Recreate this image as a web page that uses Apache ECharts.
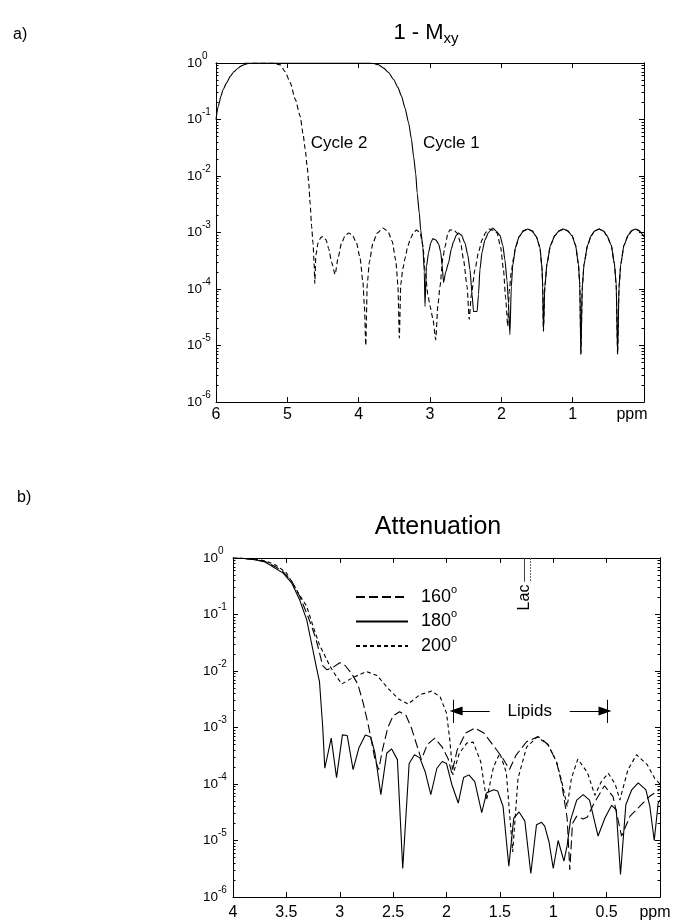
<!DOCTYPE html>
<html><head><meta charset="utf-8">
<script src="https://cdn.jsdelivr.net/npm/echarts@6/dist/echarts.min.js"></script>
<style>html,body{margin:0;padding:0;background:#fff}#c{width:676px;height:922px}</style>
</head><body><div id="c"></div>
<script>
const FONT = "'Liberation Sans', Arial, Helvetica, sans-serif";

// ---------- panel a) 1 - Mxy : [ppm, value] ----------
const cycle1 = [
[6.00,0.10],[5.97,0.17],[5.93,0.26],[5.90,0.34],[5.85,0.45],[5.80,0.58],[5.75,0.70],[5.70,0.79],[5.65,0.88],[5.60,0.94],[5.55,0.98],[5.50,1.00],[5.00,1.00],[4.50,1.00],[4.00,1.00],[3.85,1.00],[3.79,0.98],[3.72,0.93],[3.65,0.81],[3.58,0.68],[3.51,0.51],[3.45,0.37],[3.40,0.26],[3.35,0.16],[3.30,0.087],[3.26,0.045],[3.23,0.022],[3.20,0.011],[3.18,0.005],[3.15,0.0022],[3.13,0.0011],[3.10,5.5e-4],[3.08,2.0e-4],[3.07,4.9e-5],
[3.05,2.5e-4],[3.02,4.4e-4],[2.99,6.5e-4],[2.96,7.8e-4],[2.92,7.4e-4],[2.88,6.3e-4],[2.85,4.5e-4],[2.83,2.6e-4],[2.81,1.3e-4],[2.78,2.0e-4],[2.74,2.9e-4],[2.70,5.2e-4],[2.67,6.9e-4],[2.63,9.0e-4],[2.60,9.8e-4],[2.56,9.0e-4],[2.51,6.5e-4],[2.47,4.0e-4],[2.44,2.2e-4],[2.41,8.0e-5],[2.39,4.0e-5],[2.34,4.0e-5],[2.32,8.0e-5],[2.30,2.2e-4],[2.27,4.5e-4],[2.23,7.4e-4],[2.18,1.0e-3],[2.12,1.2e-3],[2.07,1.05e-3],[2.02,8.9e-4],[1.98,6.0e-4],[1.95,3.3e-4],[1.92,1.4e-4],[1.90,5.6e-5],[1.88,1.55e-5],
[1.86,1.1e-4],[1.84,2.6e-4],[1.80,5.5e-4],[1.75,8.5e-4],[1.69,1.07e-3],[1.63,1.15e-3],[1.57,1.07e-3],[1.51,8.5e-4],[1.46,5.5e-4],[1.43,2.4e-4],[1.42,1.1e-4],[1.41,1.8e-5],
[1.39,1.1e-4],[1.36,2.8e-4],[1.31,6.0e-4],[1.25,8.8e-4],[1.19,1.07e-3],[1.13,1.15e-3],[1.07,1.07e-3],[1.01,8.8e-4],[0.96,6.0e-4],[0.92,2.8e-4],[0.90,1.2e-4],[0.885,7.0e-6],
[0.865,1.1e-4],[0.84,2.8e-4],[0.79,6.0e-4],[0.74,8.8e-4],[0.69,1.07e-3],[0.63,1.15e-3],[0.57,1.07e-3],[0.52,8.8e-4],[0.46,6.0e-4],[0.415,2.8e-4],[0.39,1.2e-4],[0.37,7.0e-6],
[0.35,1.1e-4],[0.325,2.8e-4],[0.28,6.0e-4],[0.22,9.0e-4],[0.17,1.08e-3],[0.12,1.15e-3],[0.07,1.08e-3],[0.03,9.5e-4],[0.00,8.5e-4]
];
const cycle2 = [
[5.60,1.00],[5.20,1.00],[5.10,0.93],[5.03,0.70],[4.96,0.45],[4.89,0.23],[4.82,0.115],[4.78,0.056],[4.75,0.030],[4.72,0.014],[4.70,0.0076],[4.68,0.0032],[4.66,0.0013],[4.64,6.5e-4],[4.625,2.9e-4],[4.615,1.26e-4],
[4.60,4.0e-4],[4.57,6.5e-4],[4.53,8.2e-4],[4.50,8.5e-4],[4.46,7.5e-4],[4.42,5.2e-4],[4.38,3.0e-4],[4.33,1.8e-4],
[4.29,3.5e-4],[4.24,6.5e-4],[4.19,8.8e-4],[4.14,9.8e-4],[4.09,9.0e-4],[4.03,6.5e-4],[3.98,3.5e-4],[3.94,1.3e-4],[3.92,5.0e-5],[3.90,1.0e-5],
[3.88,1.2e-4],[3.85,3.0e-4],[3.80,6.5e-4],[3.74,9.8e-4],[3.66,1.2e-3],[3.59,1.05e-3],[3.53,7.0e-4],[3.48,3.2e-4],[3.45,1.2e-4],[3.43,1.35e-5],
[3.41,1.2e-4],[3.38,2.3e-4],[3.35,3.5e-4],[3.31,5.8e-4],[3.27,8.0e-4],[3.23,1.0e-3],[3.19,1.1e-3],[3.14,1.0e-3],[3.10,6.0e-4],[3.07,2.2e-4],[3.03,8.0e-5],[3.00,5.0e-5],[2.96,3.0e-5],[2.92,1.26e-5],
[2.89,5.0e-5],[2.86,1.1e-4],[2.82,3.5e-4],[2.79,5.6e-4],[2.75,9.5e-4],[2.72,1.12e-3],[2.66,1.08e-3],[2.62,9.8e-4],[2.57,6.5e-4],[2.53,3.3e-4],[2.48,1.1e-4],[2.45,2.9e-5],
[2.42,8.0e-5],[2.37,2.2e-4],[2.32,4.5e-4],[2.27,7.4e-4],[2.22,1.0e-3],[2.17,1.15e-3],[2.11,1.1e-3],[2.06,9.8e-4],[2.01,5.5e-4],[1.97,2.2e-4],[1.94,7.0e-5],[1.91,2.2e-5],
[1.89,9.0e-5],[1.86,2.0e-4],[1.83,3.5e-4],[1.80,5.5e-4],[1.75,8.5e-4],[1.69,1.07e-3],[1.63,1.15e-3],[1.57,1.07e-3],[1.51,8.5e-4],[1.46,5.5e-4],[1.43,2.4e-4],[1.42,1.1e-4],[1.41,1.8e-5],
[1.39,1.1e-4],[1.36,2.8e-4],[1.31,6.0e-4],[1.25,8.8e-4],[1.19,1.07e-3],[1.13,1.15e-3],[1.07,1.07e-3],[1.01,8.8e-4],[0.96,6.0e-4],[0.92,2.8e-4],[0.90,1.2e-4],[0.885,7.0e-6],
[0.865,1.1e-4],[0.84,2.8e-4],[0.79,6.0e-4],[0.74,8.8e-4],[0.69,1.07e-3],[0.63,1.15e-3],[0.57,1.07e-3],[0.52,8.8e-4],[0.46,6.0e-4],[0.415,2.8e-4],[0.39,1.2e-4],[0.37,7.0e-6],
[0.35,1.1e-4],[0.325,2.8e-4],[0.28,6.0e-4],[0.22,9.0e-4],[0.17,1.08e-3],[0.12,1.15e-3],[0.07,1.08e-3],[0.03,9.5e-4],[0.00,8.5e-4]
];

// ---------- panel b) Attenuation : [ppm, value] ----------
const att160 = [
[4.00,1.0],[3.90,0.985],[3.80,0.94],[3.70,0.87],[3.60,0.70],[3.53,0.57],[3.45,0.39],[3.375,0.21],[3.30,0.095],[3.25,0.052],[3.22,0.035],[3.19,0.021],[3.16,0.0125],[3.12,0.0105],[3.06,0.0117],[3.00,0.0140],[2.95,0.0125],[2.89,0.0091],[2.83,0.0058],[2.78,0.0027],[2.73,0.00105],[2.70,5.4e-4],[2.67,2.7e-4],[2.635,1.8e-4],[2.60,4.0e-4],[2.55,1.0e-3],[2.50,1.6e-3],[2.44,1.9e-3],[2.38,1.65e-3],[2.33,1.0e-3],[2.28,5.0e-4],[2.235,2.7e-4],[2.18,5.0e-4],[2.11,6.5e-4],[2.04,4.5e-4],[1.985,2.8e-4],[1.95,1.55e-4],[1.90,4.0e-4],[1.82,8.0e-4],[1.735,9.8e-4],[1.65,8.0e-4],[1.55,4.5e-4],[1.47,2.8e-4],[1.41,1.8e-4],[1.35,3.2e-4],[1.25,5.6e-4],[1.14,6.9e-4],[1.05,5.0e-4],[0.97,2.5e-4],[0.92,1.0e-4],[0.87,2.5e-5],[0.845,3.0e-6],[0.82,2.0e-5],[0.78,2.7e-5],[0.72,2.4e-5],[0.68,2.6e-5],[0.62,4.5e-5],[0.52,9.3e-5],[0.44,6.0e-5],[0.36,1.2e-5],[0.28,2.7e-5],[0.19,4.0e-5],[0.10,6.0e-5],[0.00,8.0e-5]
];
const att180 = [
[4.00,1.0],[3.90,0.98],[3.80,0.93],[3.70,0.85],[3.656,0.76],[3.60,0.65],[3.53,0.54],[3.45,0.36],[3.375,0.18],[3.31,0.081],[3.27,0.035],[3.22,0.012],[3.19,0.0065],[3.16,0.00105],[3.14,1.9e-4],[3.08,6.5e-4],[3.03,1.3e-4],[2.975,7.4e-4],[2.93,7.2e-4],[2.875,1.8e-4],[2.82,4.4e-4],[2.76,7.4e-4],[2.71,6.8e-4],[2.67,3.5e-4],[2.615,6.5e-5],[2.56,3.5e-4],[2.515,4.2e-4],[2.46,2.7e-4],[2.41,3.2e-6],[2.35,2.3e-4],[2.30,3.3e-4],[2.25,2.9e-4],[2.20,1.65e-4],[2.147,6.5e-5],[2.09,1.9e-4],[2.04,2.5e-4],[2.00,2.3e-4],[1.95,9.8e-5],[1.89,4.6e-5],[1.84,1.3e-4],[1.79,1.45e-4],[1.735,1.1e-4],[1.67,3.1e-5],[1.625,6.9e-5],[1.56,7.9e-5],[1.52,7.5e-5],[1.47,4.0e-5],[1.416,3.5e-6],[1.37,2.5e-5],[1.32,3.2e-5],[1.266,2.2e-5],[1.21,2.6e-6],[1.157,1.9e-5],[1.11,2.1e-5],[1.08,1.8e-5],[1.04,9.5e-6],[1.00,3.2e-6],[0.954,1.0e-5],[0.90,4.3e-6],[0.87,8.1e-6],[0.838,2.3e-5],[0.78,5.2e-5],[0.72,6.5e-5],[0.66,5.2e-5],[0.58,1.2e-5],[0.516,2.5e-5],[0.453,4.2e-5],[0.41,3.5e-5],[0.37,2.5e-6],[0.32,4.3e-5],[0.265,7.9e-5],[0.204,1.05e-4],[0.132,7.9e-5],[0.095,4.0e-5],[0.054,1.0e-5],[0.017,4.6e-5],[0.00,5.2e-5]
];
const att200 = [
[4.00,1.0],[3.90,0.99],[3.80,0.96],[3.70,0.89],[3.60,0.75],[3.50,0.55],[3.41,0.28],[3.31,0.14],[3.25,0.062],[3.19,0.029],[3.09,0.012],[3.03,0.0079],[2.98,0.0059],[2.88,0.0076],[2.75,0.0098],[2.65,0.0083],[2.55,0.0050],[2.45,0.0032],[2.36,0.0026],[2.25,0.0038],[2.14,0.0044],[2.06,0.0035],[2.00,0.0018],[1.97,6.3e-4],[1.94,1.45e-4],[1.88,3.5e-4],[1.81,5.3e-4],[1.75,5.5e-4],[1.68,2.5e-4],[1.625,5.2e-5],[1.56,2.0e-4],[1.50,3.5e-4],[1.44,1.6e-4],[1.38,6.3e-6],[1.33,1.26e-4],[1.25,4.5e-4],[1.15,6.8e-4],[1.05,5.0e-4],[0.97,2.5e-4],[0.92,1.1e-4],[0.87,4.0e-5],[0.83,1.26e-4],[0.77,2.75e-4],[0.68,1.6e-4],[0.61,6.3e-5],[0.55,1.1e-4],[0.485,1.55e-4],[0.42,1.0e-4],[0.376,5.2e-5],[0.30,1.8e-4],[0.22,3.3e-4],[0.12,2.2e-4],[0.05,1.26e-4],[0.00,1.0e-4]
];

// ---------- ticks / labels ----------
const yDecades = [1e-6,1e-5,1e-4,1e-3,1e-2,1e-1,1];
const yMinorMantissas = [2,3,4,5,6,7,8,9];
const topXTicks = [6,5,4,3,2,1,0];
const topXLabels = ['6','5','4','3','2','1','ppm'];
const botXTicks = [4,3.5,3,2.5,2,1.5,1,0.5,0];
const botXLabels = ['4','3.5','3','2.5','2','1.5','1','0.5','ppm'];
const legendNames = ['160°','180°','200°'];
const annotations = {
  cycle1: {name:'Cycle 1', at:[2.70,0.038]},
  cycle2: {name:'Cycle 2', at:[4.275,0.038]},
  lipids: {name:'Lipids', at:[1.22,1.95e-3], left:1.94, right:0.495, arrowL:[1.595,1.91], arrowR:[0.845,0.515], barTop:3.1e-3, barBot:1.2e-3},
  lac: {name:'Lac', at:[1.27,0.2], x1:1.276, x2:1.22, lineBot:0.38}
};

const yMinor = [];
yDecades.slice(0,-1).forEach(d => yMinorMantissas.forEach(m => yMinor.push(+(m*d).toPrecision(3))));

const BLACK = '#000';
function xAxisPair(g, ticks, labels, padRight, margin) {
  const base = {
    type:'value', gridIndex:g, min:0, max:ticks[0], inverse:true,
    splitLine:{show:false}, minorTick:{show:false},
    axisLine:{show:true, onZero:false, lineStyle:{color:BLACK, width:1}},
    axisTick:{show:true, inside:true, length:5, customValues:ticks, lineStyle:{color:BLACK, width:1}}
  };
  return [
    Object.assign({}, base, {position:'bottom',
      axisLabel:{show:true, customValues:ticks, margin:margin, color:BLACK, fontSize:16, fontFamily:FONT,
        showMinLabel:true, showMaxLabel:true,
        formatter:(v)=>{ const i = ticks.indexOf(v); const t = i>=0 ? labels[i] : ''; return t==='ppm' ? '{p|ppm}' : t; },
        rich:{p:{fontSize:16, fontFamily:FONT, color:BLACK, padding:[0,padRight,0,0]}}}}),
    Object.assign({}, base, {position:'top', axisLabel:{show:false}})
  ];
}
function yAxes(g, margin) {
  const common = {type:'log', logBase:10, gridIndex:g, min:1e-6, max:1, offset:0,
    splitLine:{show:false}, minorTick:{show:false},
    axisLine:{show:true, onZero:false, lineStyle:{color:BLACK, width:1}}};
  const res = [];
  ['left','right'].forEach(pos => {
    res.push(Object.assign({}, common, {position:pos,
      axisTick:{show:true, inside:true, length:5, customValues:yDecades, lineStyle:{color:BLACK, width:1}},
      axisLabel: pos==='left' ? {show:true, customValues:yDecades, align:'left', margin:margin, color:BLACK,
        showMinLabel:true, showMaxLabel:true,
        formatter:(v)=>'{b|10}{s|'+Math.round(Math.log10(v))+'}',
        rich:{b:{fontSize:13.5, fontFamily:FONT, color:BLACK}, s:{fontSize:10, fontFamily:FONT, color:BLACK, padding:[0,0,14,0]}}} : {show:false}
    }));
    res.push(Object.assign({}, common, {position:pos,
      axisTick:{show:true, inside:true, length:2.5, customValues:yMinor, lineStyle:{color:BLACK, width:1}},
      axisLabel:{show:false}}));
  });
  return res;
}

const xAxes = [].concat(xAxisPair(0, topXTicks, topXLabels, 24, 5), xAxisPair(1, botXTicks, botXLabels, 10, 8));
const yAx = [].concat(yAxes(0, 29), yAxes(1, 30));

const textLabel = (fs, rot) => ({show:true, position:'inside', formatter:'{b}', color:BLACK, fontSize:fs, fontFamily:FONT, rotate:rot||0});
const A = annotations;

const option = {
  animation:false,
  backgroundColor:'#fff',
  title:[
    {text:'{m|1 - M}{sub|xy}', left:426, top:20, textAlign:'center', padding:0,
      textStyle:{fontWeight:'normal', rich:{m:{fontSize:22, fontWeight:'normal', fontFamily:FONT, color:BLACK}, sub:{fontSize:15, fontWeight:'normal', fontFamily:FONT, color:BLACK, padding:[11,0,0,0]}}}},
    {text:'Attenuation', left:438, top:515, textAlign:'center', padding:0,
      textStyle:{fontSize:25, fontWeight:'normal', fontFamily:FONT, color:BLACK}},
    {text:'a)', left:13, top:27, padding:0, textStyle:{fontSize:16, fontWeight:'normal', fontFamily:FONT, color:BLACK}},
    {text:'b)', left:17, top:490, padding:0, textStyle:{fontSize:16, fontWeight:'normal', fontFamily:FONT, color:BLACK}}
  ],
  grid:[
    {left:216, top:63, width:428, height:339, outerBoundsMode:'none', containLabel:false},
    {left:233, top:558, width:427, height:339, outerBoundsMode:'none', containLabel:false}
  ],
  legend:{
    data:legendNames, orient:'vertical', left:355, top:584, padding:0, itemWidth:52, itemHeight:18, itemGap:2.5,
    selectedMode:false, inactiveColor:BLACK,
    itemStyle:{opacity:0, color:'transparent', borderWidth:0},
    formatter:(n)=>'{n|'+n.replace('°','')+'}{s|o}',
    textStyle:{color:BLACK, fontFamily:FONT, fontSize:18, padding:[0,0,0,8],
      rich:{n:{fontSize:18, fontFamily:FONT, color:BLACK}, s:{fontSize:11, fontFamily:FONT, color:BLACK, padding:[0,0,15,0]}}}
  },
  xAxis: xAxes,
  yAxis: yAx,
  series:[
    {name:'Cycle 1', type:'line', xAxisIndex:0, yAxisIndex:0, data:cycle1, symbol:'none', smooth:0.2, smoothMonotone:'x',
      lineStyle:{color:BLACK, width:1.1, type:'solid'}, z:3,
      markPoint:{symbol:'circle', symbolSize:0, silent:true, label:textLabel(17), itemStyle:{color:'transparent'},
        data:[{name:A.cycle1.name, coord:A.cycle1.at}, {name:A.cycle2.name, coord:A.cycle2.at}]}},
    {name:'Cycle 2', type:'line', xAxisIndex:0, yAxisIndex:0, data:cycle2, symbol:'none', smooth:0.2, smoothMonotone:'x',
      lineStyle:{color:BLACK, width:1.1, type:[5,3]}, z:2},
    {name:legendNames[0], type:'line', xAxisIndex:2, yAxisIndex:4, data:att160, symbol:'none',
      lineStyle:{color:BLACK, width:1.1, type:[9,4]}, itemStyle:{color:BLACK}, z:2},
    {name:legendNames[1], type:'line', xAxisIndex:2, yAxisIndex:4, data:att180, symbol:'none',
      lineStyle:{color:BLACK, width:1.1, type:'solid'}, itemStyle:{color:BLACK}, z:3,
      markLine:{silent:true, symbol:['none','none'], label:{show:false}, lineStyle:{color:BLACK, width:1, type:'solid'},
        emphasis:{disabled:true},
        data:[
          [{coord:[A.lipids.left, A.lipids.barTop]}, {coord:[A.lipids.left, A.lipids.barBot]}],
          [{coord:[A.lipids.right, A.lipids.barTop]}, {coord:[A.lipids.right, A.lipids.barBot]}],
          [{coord:[A.lipids.arrowL[0], A.lipids.at[1]], symbol:'none'}, {coord:[A.lipids.arrowL[1], A.lipids.at[1]], symbol:'triangle', symbolSize:[9,13]}],
          [{coord:[A.lipids.arrowR[0], A.lipids.at[1]], symbol:'none'}, {coord:[A.lipids.arrowR[1], A.lipids.at[1]], symbol:'triangle', symbolSize:[9,13]}],
          [{coord:[A.lac.x1, 1], lineStyle:{color:'#444', width:1}}, {coord:[A.lac.x1, A.lac.lineBot]}],
          [{coord:[A.lac.x2, 1], lineStyle:{color:'#666', width:1, type:[2,1]}}, {coord:[A.lac.x2, A.lac.lineBot]}]
        ]},
      markPoint:{symbol:'circle', symbolSize:0, silent:true, itemStyle:{color:'transparent'},
        data:[{name:A.lipids.name, coord:A.lipids.at, label:textLabel(17)},
              {name:A.lac.name, coord:A.lac.at, label:textLabel(16, 90)}]}},
    {name:legendNames[2], type:'line', xAxisIndex:2, yAxisIndex:4, data:att200, symbol:'none',
      lineStyle:{color:BLACK, width:1.1, type:[4,3]}, itemStyle:{color:BLACK}, z:2}
  ]
};
const chart = echarts.init(document.getElementById('c'), null, {renderer:'canvas'});
chart.setOption(option);
</script></body></html>
